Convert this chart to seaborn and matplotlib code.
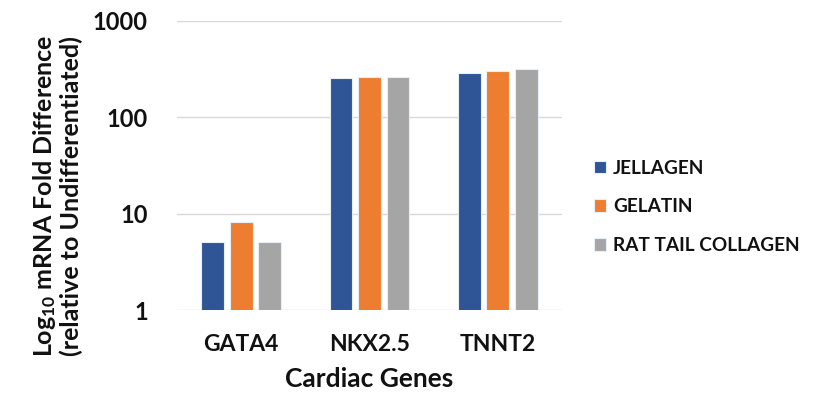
import matplotlib
matplotlib.use("Agg")
import matplotlib.pyplot as plt
import seaborn as sns
import pandas as pd

genes = ["GATA4", "NKX2.5", "TNNT2"]
materials = ["JELLAGEN", "GELATIN", "RAT TAIL COLLAGEN"]
jellagen = [5.1, 254, 287]
gelatin = [8.1, 264, 305]
rat_tail = [5.1, 264, 315]
colors = ["#2F5597", "#ED7D31", "#A5A5A5"]
yticks = [1, 10, 100, 1000]

rows = []
for m, vals in zip(materials, [jellagen, gelatin, rat_tail]):
    for g, v in zip(genes, vals):
        rows.append({"Gene": g, "Material": m, "Value": v})
df = pd.DataFrame(rows)

sns.set_theme(style="white")
plt.rcParams["font.family"] = ["Lato", "DejaVu Sans"]
plt.rcParams["mathtext.fontset"] = "custom"
plt.rcParams["mathtext.bf"] = "Lato:bold"
plt.rcParams["mathtext.rm"] = "Lato:bold"
plt.rcParams["mathtext.default"] = "bf"

fig = plt.figure(figsize=(8.25, 3.93), dpi=100)
ax = fig.add_axes([177/825, 1 - 310/393, (562-177)/825, (310-21)/393])

sns.barplot(data=df, x="Gene", y="Value", hue="Material", order=genes,
            hue_order=materials, palette=colors, saturation=1, width=0.666, gap=0.2,
            edgecolor="#E8EEF8", linewidth=0.8, ax=ax, legend=True)
ax.set_yscale("log")
ax.set_ylim(1, 1000)
ax.set_xlim(-0.5, 2.5)
ax.set_yticks(yticks)
ax.set_yticklabels([str(t) for t in yticks])
ax.minorticks_off()
ax.yaxis.grid(True, color="#D9D9D9", linewidth=1.0)
ax.set_axisbelow(True)
for s in ax.spines.values():
    s.set_visible(False)
ax.tick_params(axis="both", length=0, colors="#111111")
ax.tick_params(axis="y", pad=21, labelsize=17)
ax.tick_params(axis="x", pad=17, labelsize=16.5)
for lab in ax.get_xticklabels() + ax.get_yticklabels():
    lab.set_fontweight("bold")

ax.set_xlabel("Cardiac Genes", fontsize=19, fontweight="bold", labelpad=9, color="#111111")
ax.set_ylabel("")
fig.text(57/825, 1 - 196/393,
         "Log$_{10}$ mRNA Fold Difference\n(relative to Undifferentiated)",
         rotation=90, ha="center", va="center", fontsize=18, fontweight="bold",
         color="#111111", linespacing=1.1, multialignment="center")

leg = ax.legend(loc="center left", bbox_to_anchor=(577/825, 1 - 207/393), bbox_transform=fig.transFigure,
                frameon=False, fontsize=13.7, handlelength=0.65, handleheight=0.65,
                handletextpad=0.35, labelspacing=1.15)
for t in leg.get_texts():
    t.set_fontweight("bold")
    t.set_color("#111111")

fig.savefig("out.png", dpi=100)
